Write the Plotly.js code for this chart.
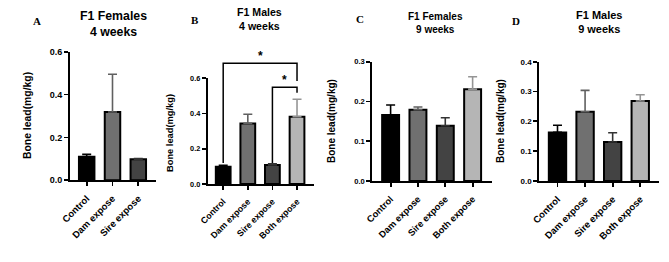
<!DOCTYPE html>
<html>
<head>
<meta charset="utf-8">
<script src="https://cdn.plot.ly/plotly-3.0.1.min.js"></script>
<style>html,body{margin:0;padding:0;background:#fff;}#chart{width:669px;height:262px;}</style>
</head>
<body>
<div id="chart"></div>
<script>
// ---------- data ----------
const catsA = ['Control', 'Dam expose', 'Sire expose'];
const catsBCD = ['Control', 'Dam expose', 'Sire expose', 'Both expose'];

const femWk4Mean = [0.110, 0.319, 0.098];
const femWk4Sem  = [0.011, 0.176, 0.003];

const maleWk4Mean = [0.098, 0.344, 0.108, 0.382];
const maleWk4Sem  = [0.008, 0.052, 0.006, 0.099];

const femWk9Mean = [0.166, 0.179, 0.139, 0.231];
const femWk9Sem  = [0.025, 0.007, 0.020, 0.031];

const maleWk9Mean = [0.163, 0.232, 0.131, 0.268];
const maleWk9Sem  = [0.024, 0.072, 0.031, 0.021];

const panelLetters = ['A', 'B', 'C', 'D'];
const panelTitles = ['F1 Females<br>4 weeks', 'F1 Males<br>4 weeks', 'F1 Females<br>9 weeks', 'F1 Males<br>9 weeks'];
const yTitle = 'Bone lead(mg/kg)';

// significance comparisons in panel B (category indices) and labels
const sigPairs = [[0, 3], [2, 3]];
const sigLabels = ['*', '*'];

// ---------- styling / geometry ----------
const W = 669, H = 262;
const FONT = 'Liberation Sans, Arial, sans-serif';
const fillColors = {'Control': '#000000', 'Dam expose': '#707070', 'Sire expose': '#434343', 'Both expose': '#b5b5b5'};
const errColors  = {'Control': '#000000', 'Dam expose': '#606060', 'Sire expose': '#333333', 'Both expose': '#959595'};

const px = x => x / W;
const py = y => 1 - y / H;

const panels = [
  {cats: catsA,   mean: femWk4Mean,  sem: femWk4Sem,  ymax: 0.6, dtick: 0.2,
   box: [70, 156, 180.3, 51.7], xr: [-0.647, 2.686], bw: 0.6,
   xt: 9.5, yt: 9, tt: 12.3, ytt: 10.4, title: [113, 24], letter: [37, 21], ylab: [27, 116]},
  {cats: catsBCD, mean: maleWk4Mean, sem: maleWk4Sem, ymax: 0.6, dtick: 0.2,
   box: [207.7, 314, 184, 78.3], xr: [-0.63, 3.69], bw: 0.6,
   xt: 8.8, yt: 7.3, tt: 10.6, ytt: 9.3, title: [259, 19], letter: [195, 20], ylab: [170, 133]},
  {cats: catsBCD, mean: femWk9Mean,  sem: femWk9Sem,  ymax: 0.3, dtick: 0.1,
   box: [372.3, 492.3, 181, 61.7], xr: [-0.67, 3.72], bw: 0.62,
   xt: 9.3, yt: 7.6, tt: 10, ytt: 10, title: [436, 22.5], letter: [360, 19], ylab: [331, 121]},
  {cats: catsBCD, mean: maleWk9Mean, sem: maleWk9Sem, ymax: 0.4, dtick: 0.1,
   box: [539.3, 659, 181, 61.7], xr: [-0.66, 3.68], bw: 0.63,
   xt: 9.5, yt: 8, tt: 11, ytt: 10, title: [599, 22], letter: [515.7, 20.7], ylab: [500, 121]}
];

const traces = [];
const layout = {
  width: W, height: H,
  margin: {l: 0, r: 0, t: 0, b: 0},
  paper_bgcolor: '#fff', plot_bgcolor: 'rgba(0,0,0,0)',
  showlegend: false, barmode: 'overlay',
  font: {family: FONT, color: '#000', weight: 'bold'},
  annotations: [], shapes: []
};

panels.forEach((p, i) => {
  const n = i + 1;
  const xa = 'xaxis' + (n === 1 ? '' : n), ya = 'yaxis' + (n === 1 ? '' : n);
  const xr = 'x' + (n === 1 ? '' : n), yr = 'y' + (n === 1 ? '' : n);
  p.cats.forEach((c, k) => {
    traces.push({
      type: 'bar', x: [c], y: [p.mean[k]], width: p.bw,
      xaxis: xr, yaxis: yr,
      marker: {color: fillColors[c], line: {color: '#000', width: 2}},
      error_y: {type: 'data', array: [p.sem[k]], arrayminus: [0], symmetric: false,
                color: errColors[c], thickness: 1.6, width: 4.5},
      hoverinfo: 'skip'
    });
  });
  layout[xa] = {
    domain: [px(p.box[0]), px(p.box[1])], anchor: yr,
    type: 'category', categoryorder: 'array', categoryarray: p.cats,
    range: p.xr, showline: true, linecolor: '#000', linewidth: 2,
    ticks: 'outside', ticklen: 4, tickwidth: 1.8, tickcolor: '#000',
    ticklabelstandoff: 3,
    tickangle: -45, tickfont: {family: FONT, size: p.xt, color: '#000', weight: 'bold'},
    showgrid: false, zeroline: false, fixedrange: true
  };
  layout[ya] = {
    domain: [py(p.box[2]), py(p.box[3])], anchor: xr,
    range: [0, p.ymax], dtick: p.dtick, tick0: 0, tickformat: '.1f',
    showline: true, linecolor: '#000', linewidth: 2,
    ticks: 'outside', ticklen: 4, tickwidth: 1.8, tickcolor: '#000',
    tickfont: {family: FONT, size: p.yt, color: '#000', weight: 'bold'},
    showgrid: false, zeroline: false, fixedrange: true
  };
  layout.annotations.push({
    xref: 'paper', yref: 'paper', x: px(p.title[0]), y: py(p.title[1]),
    xanchor: 'center', yanchor: 'middle', showarrow: false,
    text: panelTitles[i], font: {family: FONT, size: p.tt, color: '#000', weight: 'bold'}
  });
  layout.annotations.push({
    xref: 'paper', yref: 'paper', x: px(p.letter[0]), y: py(p.letter[1]),
    xanchor: 'center', yanchor: 'middle', showarrow: false,
    text: panelLetters[i], font: {family: 'Liberation Serif, Times New Roman, serif', size: 11, color: '#000', weight: 'bold'}
  });
  layout.annotations.push({
    xref: 'paper', yref: 'paper', x: px(p.ylab[0]), y: py(p.ylab[1]),
    xanchor: 'center', yanchor: 'middle', showarrow: false, textangle: -90,
    text: yTitle, font: {family: FONT, size: p.ytt, color: '#000', weight: 'bold'}
  });
});

// ---------- significance brackets for panel B (invisible overlay axes, same data scale, taller domain) ----------
const pB = panels[1];
const topPx5 = 40;
const yScale5 = pB.ymax * (pB.box[2] - topPx5) / (pB.box[2] - pB.box[3]);
layout.xaxis5 = {domain: [px(pB.box[0]), px(pB.box[1])], anchor: 'y5', type: 'linear', range: pB.xr,
                 visible: false, fixedrange: true};
layout.yaxis5 = {domain: [py(pB.box[2]), py(topPx5)], anchor: 'x5', range: [0, yScale5],
                 visible: false, fixedrange: true};
const bracketTop = [0.685, 0.549];
const rightDrop = [0.10, 0.031];
const leftGap = [0.013, 0.005];
sigPairs.forEach((pr, j) => {
  const [a, b] = pr;
  const leftBottom = pB.mean[a] + pB.sem[a] + leftGap[j];
  traces.push({
    type: 'scatter', mode: 'lines', xaxis: 'x5', yaxis: 'y5',
    x: [a, a, b, b], y: [leftBottom, bracketTop[j], bracketTop[j], bracketTop[j] - rightDrop[j]],
    line: {color: '#000', width: 1.5}, hoverinfo: 'skip'
  });
  layout.annotations.push({
    xref: 'x5', yref: 'y5', x: (a + b) / 2, y: bracketTop[j], yanchor: 'bottom', xanchor: 'center',
    yshift: -2, showarrow: false, text: sigLabels[j],
    font: {family: FONT, size: 12, color: '#000', weight: 'bold'}
  });
});

Plotly.newPlot('chart', traces, layout, {staticPlot: true, displayModeBar: false});
</script>
</body>
</html>
